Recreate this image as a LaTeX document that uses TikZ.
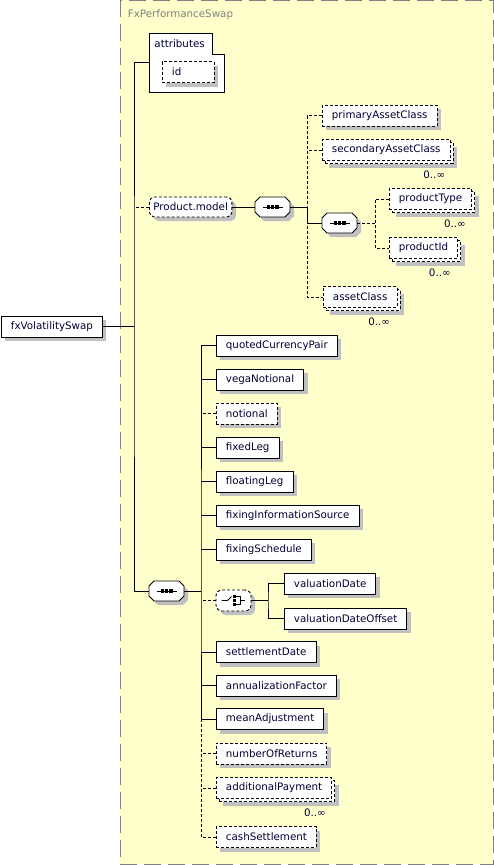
\documentclass[tikz,border=0pt]{standalone}
\usepackage{fontspec}
\setmainfont{DejaVu Sans}
\usetikzlibrary{shadows}

\definecolor{boxfill}{HTML}{FFFFCC}
\definecolor{frame}{HTML}{808080}
\definecolor{shade}{HTML}{C0C0C0}
\definecolor{ink}{HTML}{000033}

\tikzset{
  box/.style={draw, fill=white, anchor=west, inner xsep=9.5pt, inner ysep=0pt,
    minimum height=21pt, text=ink},
  shade4/.style={drop shadow={shadow xshift=4pt, shadow yshift=-4pt, fill=shade, opacity=1}},
  el/.style={box, shade4},
  opt/.style={box, shade4, dash pattern=on 3pt off 2pt},
  many/.style={box, dash pattern=on 3pt off 2pt,
    drop shadow={shadow xshift=7pt, shadow yshift=-7pt, fill=shade, opacity=1},
    copy shadow={shadow xshift=3pt, shadow yshift=-3pt, draw, fill=white, dash pattern=on 3pt off 2pt}},
  occ/.style={anchor=north east, inner sep=0pt, text=ink},
  optline/.style={dash pattern=on 3pt off 2pt},
  seqbox/.style={rectangle, minimum width=35pt, minimum height=20pt, inner sep=0pt},
  octo/.pic={
    \path[pic actions] (-12.5,-10) -- (12.5,-10) -- (17.5,-5) -- (17.5,5)
      -- (12.5,10) -- (-12.5,10) -- (-17.5,5) -- (-17.5,-5) -- cycle;},
  choicebox/.style={rectangle, rounded corners=6pt, draw, fill=white, dash pattern=on 3pt off 2pt,
    minimum width=35pt, minimum height=21pt, inner sep=0pt, shade4,
    path picture={
      \begin{scope}[shift={(path picture bounding box.center)}, solid, sharp corners]
        \draw[black] (-12,0) -- (-6,0) -- (-2,-4);
        \foreach \dy in {-4,0,4}
          \fill[black] (-0.3,\dy-1.4) rectangle (2.5,\dy+1.4);
        \draw[black] (2,-4) -- (7,-4) -- (7,4) -- (2,4) (7,0) -- (11,0);
      \end{scope}}}
}

% octagon with the sequence mark, drawn over an empty node
\newcommand\seqmark[1]{%
  \begin{scope}[shift={(#1.center)}]
    \pic[fill=shade] at (4,4) {octo};
    \pic[draw, fill=white] {octo};
    \draw (-10,0) -- (10,0);
    \foreach \dx in {-4.4,0,4.4}
      \fill (\dx-1.6,-1.6) rectangle (\dx+1.6,1.6);
  \end{scope}}

\begin{document}
\begin{tikzpicture}[x=1pt, y=-1pt, line width=0.9pt, font=\fontsize{10.3}{12}\selectfont]
  \useasboundingbox (0,0) rectangle (494,865);

  % container
  \draw[frame, fill=boxfill, line width=1pt, dash pattern=on 17pt off 7pt] (120,0) rectangle (493,864);
  \node[anchor=base west, text=frame, inner sep=0pt] (title) at (127.5,17.5) {FxPerformanceSwap};

  % root
  \node[el] (root) at (1,326.5) {fxVolatilitySwap};

  % attributes
  \draw[fill=white] (149,33) -- (212,33) -- (212,54) -- (224,54) -- (224,92) -- (149,92) -- cycle;
  \node[anchor=base west, text=ink, inner sep=0pt] (attr) at (154,47.5) {attributes};
  \coordinate (attrin) at (149,62);
  \node[opt, text width=33pt] (id) at (162,72) {id};

  % Product.model group
  \node[box, rounded corners=5pt, inner xsep=4pt, dash pattern=on 3pt off 2pt, minimum height=20pt, shade4] (model) at (149,207) {Product.model};
  \node[seqbox] (seqM) at (272.5,207) {};
  \node[opt] (primary) at (322,115.5) {primaryAssetClass};
  \node[many] (secondary) at (322,150) {secondaryAssetClass};
  \node[seqbox] (seqI) at (339.5,223) {};
  \node[many] (ptype) at (389,199) {productType};
  \node[many] (pid) at (389,248) {productId};
  \node[many] (asset) at (323,297) {assetClass};
  \node[occ] (secondaryocc) at ([xshift=-5pt,yshift=-9pt]secondary.south east) {0..∞};
  \node[occ] (ptypeocc) at ([xshift=-6pt,yshift=-9pt]ptype.south east) {0..∞};
  \node[occ] (pidocc) at ([xshift=-7pt,yshift=-9pt]pid.south east) {0..∞};
  \node[occ] (assetocc) at ([xshift=-7pt,yshift=-9pt]asset.south east) {0..∞};

  % main sequence
  \node[seqbox] (seqB) at (166.5,591) {};
  \node[el] (quoted) at (216,345.5) {quotedCurrencyPair};
  \node[el] (vega) at (216,379.5) {vegaNotional};
  \node[opt] (notional) at (216,413.5) {notional};
  \node[el] (fixed) at (216,447.5) {fixedLeg};
  \node[el] (floating) at (216,481.5) {floatingLeg};
  \node[el] (fixinfo) at (216,515.5) {fixingInformationSource};
  \node[el] (fixsched) at (216,549.5) {fixingSchedule};
  \node[choicebox] (chc) at (233.5,600.5) {};
  \node[el] (valdate) at (284,583.5) {valuationDate};
  \node[el] (valoff) at (284,618.5) {valuationDateOffset};
  \node[el] (settle) at (216,652) {settlementDate};
  \node[el] (annual) at (216,685.5) {annualizationFactor};
  \node[el] (mean) at (216,719) {meanAdjustment};
  \node[opt] (numret) at (216,753.5) {numberOfReturns};
  \node[many] (addpay) at (216,788) {additionalPayment};
  \node[opt] (cash) at (216,837) {cashSettlement};
  \node[occ] (addpayocc) at ([xshift=-6pt,yshift=-9pt]addpay.south east) {0..∞};

  \foreach \s in {seqM,seqI,seqB}
    \seqmark{\s};

  % connectors
  \coordinate (t1) at (134,326.5);
  \draw (root.east) -- (t1);
  \draw (attrin) -| (t1) |- (seqB.west);
  \draw[optline] (model.west) -- (model.west -| t1);

  \coordinate (j2) at (307,207);
  \draw (model.east) -- (seqM.west);
  \draw (seqM.east) -- (j2) |- (seqI.west);
  \draw[optline] (primary.west) -| (j2) |- (asset.west);
  \draw[optline] (secondary.west) -- (secondary.west -| j2);

  \coordinate (j3) at (375,223);
  \draw[optline] (seqI.east) -- (j3);
  \draw[optline] (ptype.west) -| (j3) |- (pid.west);

  \coordinate (j4) at (201,591);
  \draw (seqB.east) -- (j4);
  \draw (quoted.west) -| (j4) |- (mean.west);
  \foreach \n in {vega,fixed,floating,fixinfo,fixsched,settle,annual}
    \draw (\n.west) -- (\n.west -| j4);
  \foreach \n in {notional,chc,numret,addpay}
    \draw[optline] (\n.west) -- (\n.west -| j4);
  \draw[optline] (mean.west -| j4) |- (cash.west);

  \coordinate (j5) at (268,600.5);
  \draw (chc.east) -- (j5);
  \draw (valdate.west) -| (j5) |- (valoff.west);
\end{tikzpicture}
\end{document}
